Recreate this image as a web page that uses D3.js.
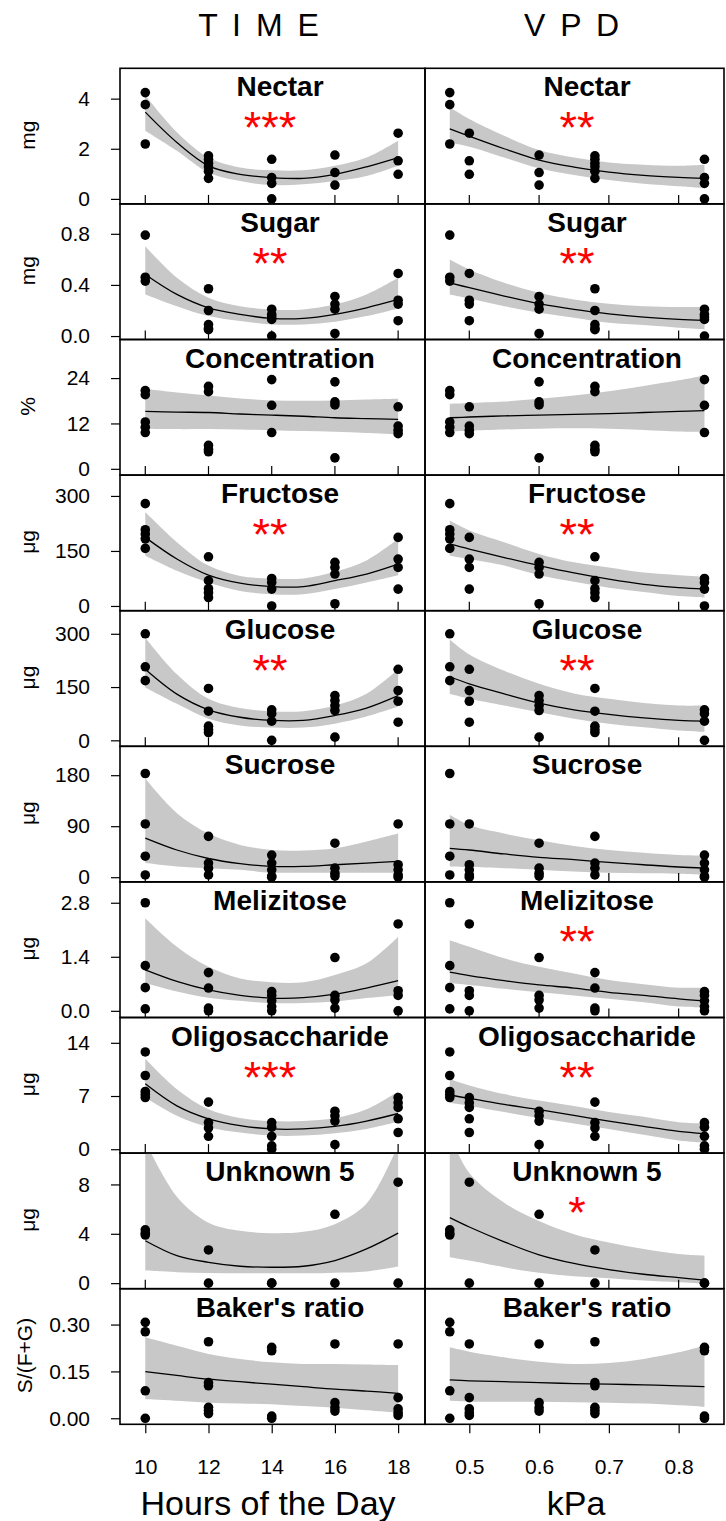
<!DOCTYPE html>
<html>
<head>
<meta charset="utf-8">
<script src="https://cdn.jsdelivr.net/npm/d3@7"></script>
<style>
  body { margin: 0; background: #fff; }
  svg { display: block; font-family: 'Liberation Sans', Arial, sans-serif; }
</style>
</head>
<body>
<div class="container"></div>
<script>
// sampling hours and the mean VPD that goes with each hour
const hours = [10, 12, 14, 16, 18];
const vpdOfHour = [0.472, 0.68, 0.837, 0.6, 0.5];
const fitHours = [10, 11, 12, 13, 14, 15, 16, 17, 18];
const fitVpd = [0.472, 0.5, 0.55, 0.6, 0.65, 0.7, 0.75, 0.8, 0.837];
const hourTicks = [10, 12, 14, 16, 18];
const vpdTicks = [0.5, 0.6, 0.7, 0.8];

const panelNames = ['Nectar', 'Sugar', 'Concentration', 'Fructose', 'Glucose', 'Sucrose',
    'Melizitose', 'Oligosaccharide', 'Unknown 5', "Baker's ratio"];
const units = ['mg', 'mg', '%', 'μg', 'μg', 'μg', 'μg', 'μg', 'μg', 'S/(F+G)'];
const starsTime = ['***', '**', '', '**', '**', '', '', '***', '', ''];
const starsVpd = ['**', '**', '', '**', '**', '', '**', '**', '*', ''];
const yTickValues = [[0, 2, 4], [0, 0.4, 0.8], [0, 12, 24], [0, 150, 300], [0, 150, 300],
    [0, 90, 180], [0, 1.4, 2.8], [0, 7, 14], [0, 4, 8], [0, 0.15, 0.30]];
const yTickLabels = [['0', '2', '4'], ['0.0', '0.4', '0.8'], ['0', '12', '24'], ['0', '150', '300'],
    ['0', '150', '300'], ['0', '90', '180'], ['0.0', '1.4', '2.8'], ['0', '7', '14'],
    ['0', '4', '8'], ['0.00', '0.15', '0.30']];
const yLimits = [[-0.2, 5.21], [-0.027, 1.034], [-1.66, 34.2], [-12.9, 356.8], [-16.8, 365],
    [-8.3, 231], [-0.173, 3.34], [-0.51, 17.33], [-0.45, 10.54], [-0.0193, 0.4148]];

// observations, one list per hour (10, 12, 14, 16, 18)
const nectarPts = [[4.24, 3.76, 2.19], [1.72, 1.58, 1.42, 1.28, 1.1, 0.82], [1.58, 0.85, 0.62, 0], [1.75, 1.05, 0.55], [2.62, 1.52, 0.98]];
const sugarPts = [[0.79, 0.46, 0.43], [0.37, 0.2, 0.09, 0.06, 0.05], [0.21, 0.17, 0.15, 0.13, 0], [0.31, 0.25, 0.21, 0.02], [0.49, 0.28, 0.25, 0.12]];
const concPts = [[20.7, 19.6, 12.4, 11.0, 9.6], [21.8, 20.4, 6.2, 5.2, 4.5], [23.6, 16.8, 9.6], [23.0, 17.7, 16.9, 2.9], [16.4, 11.3, 10.2, 9.3]];
const fructosePts = [[279, 208, 196, 183, 157], [134, 69, 47, 36, 23], [75, 64, 46, 0], [119, 105, 87, 6], [187, 128, 105, 46]];
const glucosePts = [[300, 207, 168], [146, 82, 40, 30, 22], [86, 75, 54, 0], [126, 112, 98, 84, 9], [200, 140, 110, 51]];
const sucrosePts = [[183, 94, 37, 4], [72, 25, 16, 4], [39, 25, 13, 2, 0], [60, 16, 7, 2], [94, 22, 13, 4, 0]];
const melizitosePts = [[2.8, 1.17, 0.6, 0.05], [0.99, 0.59, 0.07, 0], [0.5, 0.4, 0.26, 0.11, 0], [1.38, 0.4, 0.28, 0.07], [2.25, 0.52, 0.4, 0]];
const oligoPts = [[12.8, 9.7, 7.6, 7.2, 6.8], [6.2, 3.5, 2.8, 1.7], [3.5, 2.9, 1.7, 0.45, 0], [5.0, 4.4, 3.7, 0.6], [6.8, 6.1, 5.5, 4.0, 2.2]];
const unknownPts = [[4.32, 4.05, 3.9], [2.69, 0], [0, 0], [5.58, 0], [8.18, 0]];
const bakerPts = [[0.307, 0.277, 0.088, 0], [0.245, 0.114, 0.104, 0.035, 0.025, 0.015], [0.227, 0.216, 0.007, 0], [0.238, 0.05, 0.034, 0.023], [0.238, 0.066, 0.03, 0.018, 0.009]];

// fitted curve with lower and upper band: [fit, lo, hi]
const nectarTime = [[3.46, 2.25, 1.32, 0.98, 0.85, 0.82, 0.98, 1.28, 1.65], [2.72, 1.92, 1.05, 0.71, 0.55, 0.58, 0.71, 0.91, 1.32], [4.13, 2.66, 1.65, 1.25, 1.14, 1.14, 1.32, 1.65, 2.32]];
const nectarVpd = [[2.79, 2.5, 2.0, 1.55, 1.27, 1.07, 0.94, 0.86, 0.82], [2.25, 2.08, 1.65, 1.22, 0.95, 0.75, 0.6, 0.5, 0.42], [3.66, 3.19, 2.52, 1.95, 1.65, 1.45, 1.36, 1.32, 1.36]];
const sugarTime = [[0.482, 0.326, 0.221, 0.17, 0.138, 0.138, 0.17, 0.221, 0.286], [0.326, 0.234, 0.156, 0.117, 0.091, 0.091, 0.112, 0.156, 0.216], [0.703, 0.456, 0.30, 0.234, 0.208, 0.208, 0.248, 0.326, 0.456]];
const sugarVpd = [[0.417, 0.378, 0.313, 0.253, 0.208, 0.174, 0.148, 0.13, 0.123], [0.326, 0.294, 0.234, 0.182, 0.143, 0.104, 0.086, 0.065, 0.052], [0.599, 0.521, 0.417, 0.339, 0.286, 0.253, 0.234, 0.227, 0.227]];
const concTime = [[15.2, 15.0, 14.9, 14.5, 14.2, 13.9, 13.5, 13.3, 13.1], [10.6, 10.5, 10.5, 10.4, 10.2, 10.0, 9.8, 9.5, 9.1], [21.2, 20.2, 19.4, 18.6, 18.1, 18.0, 18.1, 18.3, 18.5]];
const concVpd = [[13.5, 13.7, 14.0, 14.2, 14.4, 14.6, 14.9, 15.2, 15.4], [9.9, 10.1, 10.4, 10.6, 10.7, 10.6, 10.3, 9.9, 9.8], [17.2, 17.4, 17.8, 18.5, 19.4, 20.5, 21.9, 23.4, 24.7]];
const fructoseTime = [[187, 128, 84, 62, 53, 53, 69, 87, 114], [137, 96, 64, 41, 32, 32, 46, 64, 84], [256, 174, 110, 82, 75, 75, 93, 124, 183]];
const fructoseVpd = [[169, 155, 132, 110, 90, 73, 59, 50, 46], [137, 128, 110, 84, 66, 50, 38, 27, 23], [233, 206, 174, 142, 119, 105, 91, 84, 80]];
const glucoseTime = [[200, 130, 86, 65, 56, 56, 70, 91, 126], [149, 103, 61, 42, 36, 36, 47, 67, 95], [289, 186, 117, 91, 82, 82, 98, 131, 200]];
const glucoseVpd = [[179, 159, 131, 105, 86, 73, 63, 56, 54], [131, 117, 98, 79, 61, 47, 37, 28, 24], [284, 242, 196, 159, 132, 117, 105, 98, 98]];
const sucroseTime = [[69, 48, 33, 24, 19, 19, 22, 25, 28], [25, 19, 16, 13, 8, 8, 8, 8, 8], [174, 113, 77, 57, 48, 47, 51, 63, 77]];
const sucroseVpd = [[51, 48, 41, 35, 31, 26, 22, 18, 16], [19, 18, 16, 13, 10, 8, 7, 6, 4], [110, 92, 77, 65, 55, 48, 43, 39, 38]];
const melizitoseTime = [[1.06, 0.76, 0.54, 0.40, 0.33, 0.34, 0.43, 0.59, 0.78], [0.72, 0.50, 0.34, 0.26, 0.20, 0.20, 0.24, 0.33, 0.41], [2.40, 1.66, 1.14, 0.84, 0.74, 0.74, 0.93, 1.23, 1.92]];
const melizitoseVpd = [[1.0, 0.91, 0.78, 0.67, 0.59, 0.48, 0.40, 0.31, 0.26], [0.72, 0.67, 0.57, 0.48, 0.40, 0.31, 0.22, 0.11, 0.09], [1.83, 1.66, 1.36, 1.14, 0.97, 0.80, 0.69, 0.60, 0.60]];
const oligoTime = [[8.6, 5.7, 4.0, 3.1, 2.67, 2.67, 3.0, 3.7, 4.7], [6.8, 4.4, 2.9, 2.2, 1.8, 1.8, 2.1, 2.67, 3.6], [11.9, 7.9, 5.25, 4.1, 3.7, 3.7, 4.1, 5.25, 7.6]];
const oligoVpd = [[7.1, 6.7, 5.9, 5.2, 4.45, 3.7, 3.0, 2.36, 2.05], [6.1, 5.7, 4.9, 4.1, 3.4, 2.67, 1.9, 1.16, 0.85], [9.25, 8.4, 7.25, 6.4, 5.7, 4.9, 4.27, 3.56, 3.4]];
const unknownTime = [[3.44, 2.23, 1.69, 1.37, 1.29, 1.37, 1.83, 2.77, 4.05], [1.02, 0.89, 0.83, 0.8, 0.8, 0.8, 0.85, 0.95, 1.35], [11.5, 7.0, 4.9, 4.24, 4.05, 4.16, 4.78, 6.45, 11.2]];
const unknownVpd = [[5.31, 4.55, 3.35, 2.3, 1.6, 1.1, 0.72, 0.45, 0.25], [2.1, 1.83, 1.29, 0.84, 0.56, 0.40, 0.22, 0.08, -0.05], [12, 8.93, 6.52, 5.04, 3.97, 3.30, 2.77, 2.36, 2.23]];
const bakerTime = [[0.149, 0.137, 0.125, 0.117, 0.109, 0.101, 0.093, 0.087, 0.080], [0.061, 0.056, 0.05, 0.047, 0.045, 0.039, 0.034, 0.026, 0.018], [0.259, 0.232, 0.206, 0.19, 0.179, 0.174, 0.174, 0.172, 0.170]];
const bakerVpd = [[0.123, 0.12, 0.117, 0.114, 0.111, 0.109, 0.107, 0.104, 0.101], [0.056, 0.053, 0.053, 0.053, 0.051, 0.05, 0.047, 0.042, 0.037], [0.227, 0.213, 0.195, 0.181, 0.174, 0.177, 0.19, 0.211, 0.232]];

const pointSets = [nectarPts, sugarPts, concPts, fructosePts, glucosePts, sucrosePts, melizitosePts, oligoPts, unknownPts, bakerPts];
const timeFits = [nectarTime, sugarTime, concTime, fructoseTime, glucoseTime, sucroseTime, melizitoseTime, oligoTime, unknownTime, bakerTime];
const vpdFits = [nectarVpd, sugarVpd, concVpd, fructoseVpd, glucoseVpd, sucroseVpd, melizitoseVpd, oligoVpd, unknownVpd, bakerVpd];

const w = 726;
const h = 1521;
const colX = [120, 425, 724];
const gridTop = 68.3;
const rowH = 135.6;
const tick = 9;

const svg = d3.select('.container')
    .append('svg')
    .attr('width', w)
    .attr('height', h)
    .attr('viewBox', [0, 0, w, h]);

const defs = svg.append('defs');

// column headers
svg.append('text')
    .attr('x', 260).attr('y', 36)
    .attr('text-anchor', 'middle')
    .style('font-size', '32px')
    .style('letter-spacing', '3px')
    .text('T I M E');
svg.append('text')
    .attr('x', 573).attr('y', 36)
    .attr('text-anchor', 'middle')
    .style('font-size', '32px')
    .style('letter-spacing', '3px')
    .text('V P D');

panelNames.forEach((name, r) => {
    const y0 = gridTop + r * rowH;
    const y1 = y0 + rowH;
    const ys = d3.scaleLinear(yLimits[r], [y1, y0]);

    [0, 1].forEach(c => {
        const x0 = colX[c];
        const x1 = colX[c + 1];
        const xs = c === 0
            ? d3.scaleLinear([9.2, 18.85], [x0, x1])
            : d3.scaleLinear([0.4365, 0.865], [x0, x1]);
        const fit = c === 0 ? timeFits[r] : vpdFits[r];
        const fx = c === 0 ? fitHours : fitVpd;
        const curve = fx.map((x, i) => ({ x: x, y: fit[0][i], lo: fit[1][i], hi: fit[2][i] }));

        const clipId = `clip-${r}-${c}`;
        defs.append('clipPath').attr('id', clipId)
            .append('rect')
            .attr('x', x0).attr('y', y0)
            .attr('width', x1 - x0).attr('height', rowH);

        const g = svg.append('g').attr('clip-path', `url(#${clipId})`);

        // confidence band
        g.append('path')
            .datum(curve)
            .attr('fill', '#c8c8c8')
            .attr('d', d3.area()
                .x(d => xs(d.x))
                .y0(d => ys(d.lo))
                .y1(d => ys(d.hi))
                .curve(d3.curveCatmullRom));

        // fitted line
        g.append('path')
            .datum(curve)
            .attr('fill', 'none')
            .attr('stroke', '#000')
            .attr('stroke-width', 1.3)
            .attr('d', d3.line()
                .x(d => xs(d.x))
                .y(d => ys(d.y))
                .curve(d3.curveCatmullRom));

        // observations
        const pts = [];
        pointSets[r].forEach((vals, i) => {
            const xv = c === 0 ? hours[i] : vpdOfHour[i];
            vals.forEach(v => pts.push({ x: xv, y: v }));
        });
        g.selectAll('circle')
            .data(pts)
            .join('circle')
            .attr('cx', d => xs(d.x))
            .attr('cy', d => ys(d.y))
            .attr('r', 4.8)
            .attr('fill', '#000');

        // inner ticks along the bottom border
        const tv = c === 0 ? hourTicks : vpdTicks;
        if (r < panelNames.length - 1) {
            svg.append('g')
                .selectAll('line')
                .data(tv)
                .join('line')
                .attr('x1', d => xs(d)).attr('x2', d => xs(d))
                .attr('y1', y1).attr('y2', y1 - tick)
                .attr('stroke', '#000')
                .attr('stroke-width', 1.2);
        } else {
            const ax = svg.append('g')
                .attr('transform', `translate(0,${y1})`)
                .call(d3.axisBottom(xs).tickValues(tv).tickSize(tick).tickPadding(26)
                    .tickFormat(c === 0 ? d3.format('d') : d3.format('.1f')));
            ax.select('.domain').remove();
            ax.attr('font-family', null).attr('font-size', null);
            ax.selectAll('line').attr('stroke-width', 1.2);
            ax.selectAll('text').style('font-size', '21px');
        }

        // panel frame
        svg.append('rect')
            .attr('x', x0).attr('y', y0)
            .attr('width', x1 - x0).attr('height', rowH)
            .attr('fill', 'none')
            .attr('stroke', '#000')
            .attr('stroke-width', 1.6);

        // title and significance
        svg.append('text')
            .attr('x', x0 + (c === 0 ? 160 : 162))
            .attr('y', y0 + 28)
            .attr('text-anchor', 'middle')
            .style('font-size', '28px')
            .style('font-weight', 'bold')
            .text(name);

        const stars = c === 0 ? starsTime[r] : starsVpd[r];
        if (stars) {
            svg.append('text')
                .attr('x', x0 + (c === 0 ? 150 : 152))
                .attr('y', y0 + 75)
                .attr('text-anchor', 'middle')
                .attr('fill', '#ff0000')
                .style('font-size', '45px')
                .text(stars);
        }

        if (c === 0) {
            const ay = svg.append('g')
                .attr('transform', `translate(${x0},0)`)
                .call(d3.axisLeft(ys)
                    .tickValues(yTickValues[r])
                    .tickFormat((d, i) => yTickLabels[r][i])
                    .tickSize(tick)
                    .tickPadding(21));
            ay.select('.domain').remove();
            ay.attr('font-family', null).attr('font-size', null);
            ay.selectAll('line').attr('stroke-width', 1.2);
            ay.selectAll('text').style('font-size', '21px');

            svg.append('text')
                .attr('transform', `translate(${r === 9 ? 25 : 28},${(y0 + y1) / 2 - 1}) rotate(-90)`)
                .attr('text-anchor', 'middle')
                .attr('dy', '0.35em')
                .style('font-size', '21px')
                .text(units[r]);
        }
    });
});

// x axis titles
svg.append('text')
    .attr('x', 268).attr('y', 1515)
    .attr('text-anchor', 'middle')
    .style('font-size', '34px')
    .text('Hours of the Day');
svg.append('text')
    .attr('x', 576).attr('y', 1515)
    .attr('text-anchor', 'middle')
    .style('font-size', '34px')
    .text('kPa');
</script>
</body>
</html>
